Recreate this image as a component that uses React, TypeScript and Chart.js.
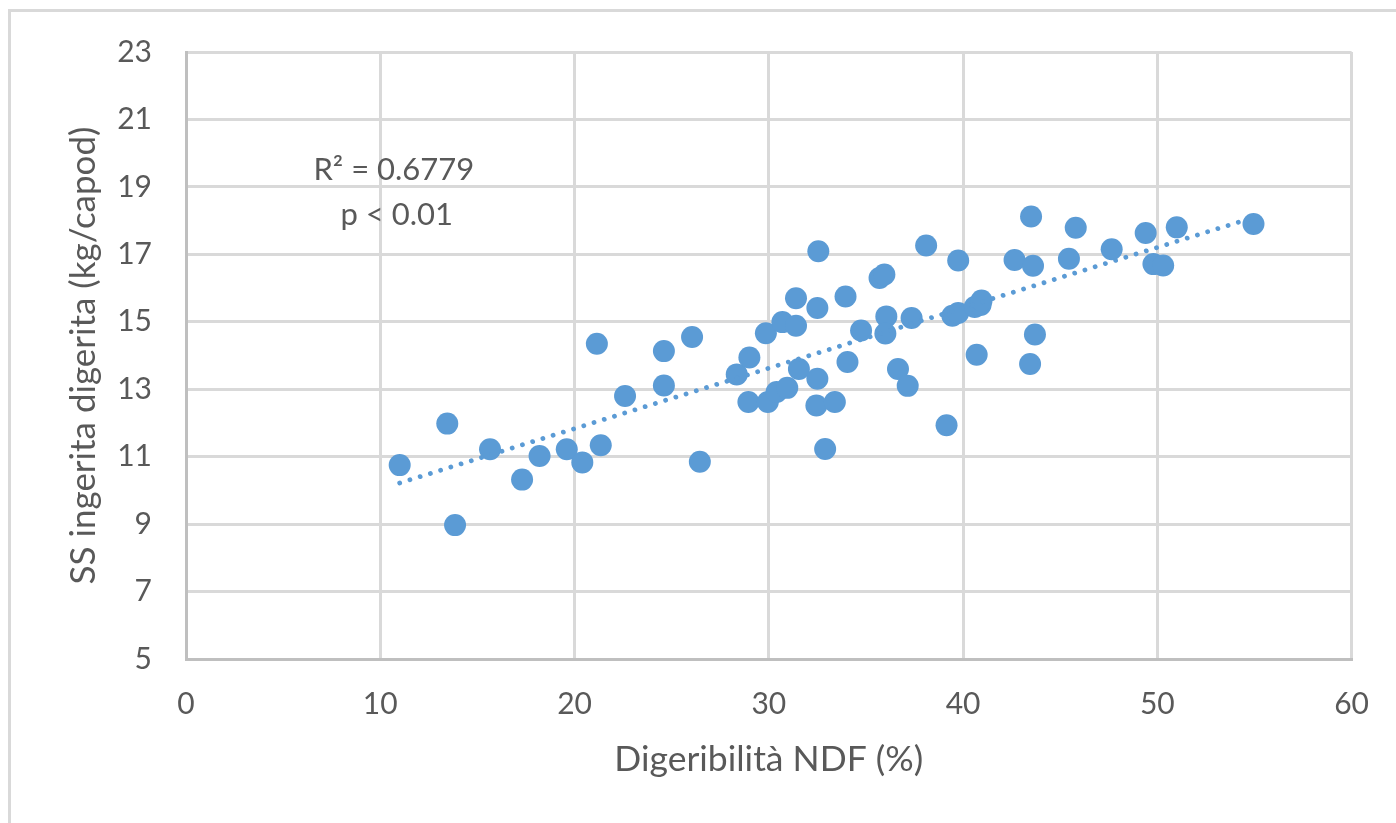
import React, { useEffect, useRef } from "react";
import { Chart, registerables } from "chart.js";

Chart.register(...registerables);

// Scatter data: NDF digestibility (%) vs digested DM intake (kg/head/day)
const ndfDigestibility = [
  11.0, 13.45, 13.85, 15.65, 17.3, 18.2, 19.6, 20.4, 21.15, 21.35,
  22.6, 24.6, 24.6, 26.05, 26.45, 28.35, 29.0, 28.95, 29.85, 29.95,
  30.4, 30.7, 30.95, 31.4, 31.4, 31.55, 32.55, 32.5, 32.5, 32.45,
  32.9, 33.4, 33.95, 34.05, 34.75, 35.7, 35.95, 36.05, 36.0, 36.65,
  37.15, 37.35, 38.1, 39.15, 39.45, 39.75, 39.75, 40.6, 40.7, 40.9,
  40.95, 42.65, 43.45, 43.5, 43.6, 43.7, 45.45, 45.8, 47.65, 49.4,
  49.8, 50.3, 51.0, 54.95,
];
const digestedIntake = [
  10.75, 11.98, 8.97, 11.22, 10.32, 11.02, 11.22, 10.83, 14.35, 11.34,
  12.8, 14.13, 13.11, 14.55, 10.85, 13.44, 13.94, 12.62, 14.66, 12.62,
  12.92, 14.99, 13.04, 15.7, 14.88, 13.6, 17.09, 15.41, 13.31, 12.52,
  11.23, 12.62, 15.75, 13.81, 14.74, 16.3, 16.4, 15.16, 14.65, 13.6,
  13.1, 15.11, 17.26, 11.93, 15.18, 15.26, 16.82, 15.44, 14.02, 15.5,
  15.63, 16.83, 13.75, 18.12, 16.66, 14.62, 16.87, 17.79, 17.15, 17.63,
  16.71, 16.67, 17.8, 17.9,
];

// Linear trendline end points (as drawn in the reference)
const trendX = [11.0, 55.0];
const trendY = [10.22, 18.1];

// Axis ticks
const xTickValues = [0, 10, 20, 30, 40, 50, 60];
const yTickValues = [5, 7, 9, 11, 13, 15, 17, 19, 21, 23];

// Texts
const xTitle = "Digeribilità NDF (%)";
const yTitle = "SS ingerita digerita (kg/capod)";
const annotationLines = ["R² = 0.6779", "p < 0.01"];
const annotationX = [10.7, 10.85];
const annotationY = [19.51, 18.17];

const BLUE = "#5B9BD5";
const TEXT = "#595959";
const GRID = "#D9D9D9";
const AXIS = "#BFBFBF";
const FONT = "Lato";

const annotationPlugin = {
  id: "r2annotation",
  afterDatasetsDraw(chart: any) {
    const { ctx, scales } = chart;
    const xs = scales.x;
    const ys = scales.y;
    ctx.save();
    ctx.font = `31px ${FONT}`;
    ctx.fillStyle = TEXT;
    ctx.textAlign = "center";
    ctx.textBaseline = "middle";
    annotationLines.forEach((t, i) => {
      ctx.fillText(t, xs.getPixelForValue(annotationX[i]), ys.getPixelForValue(annotationY[i]));
    });
    ctx.restore();
  },
};

export default function App() {
  const canvasRef = useRef<HTMLCanvasElement | null>(null);

  useEffect(() => {
    const canvas = canvasRef.current;
    if (!canvas) return;
    const points = ndfDigestibility.map((x, i) => ({ x, y: digestedIntake[i] }));
    const trend = trendX.map((x, i) => ({ x, y: trendY[i] }));

    const chart = new Chart(canvas, {
      type: "scatter",
      data: {
        datasets: [
          {
            label: "SS ingerita digerita",
            data: points,
            backgroundColor: BLUE,
            borderColor: BLUE,
            borderWidth: 0,
            pointRadius: 11,
            pointHoverRadius: 11,
            order: 2,
          },
          {
            label: "Lineare",
            data: trend,
            showLine: true,
            borderColor: BLUE,
            borderWidth: 4.8,
            borderDash: [0.01, 10.7],
            borderCapStyle: "round",
            pointRadius: 0,
            fill: false,
            order: 1,
          } as any,
        ],
      },
      options: {
        responsive: false,
        animation: false,
        events: [],
        layout: { padding: { top: 51, right: 44, left: 0, bottom: 0 } },
        plugins: {
          legend: { display: false },
          tooltip: { enabled: false },
          title: { display: false },
        },
        scales: {
          x: {
            type: "linear",
            min: 0,
            max: 60,
            afterBuildTicks: (scale: any) => {
              scale.ticks = xTickValues.map((v) => ({ value: v }));
            },
            afterFit: (scale: any) => {
              scale.height = 164;
            },
            ticks: {
              color: TEXT,
              font: { family: FONT, size: 30 },
              padding: 27,
              maxRotation: 0,
            },
            grid: { color: GRID, lineWidth: 3, drawTicks: false },
            border: { color: AXIS, width: 3 },
            title: {
              display: true,
              text: xTitle,
              color: TEXT,
              font: { family: FONT, size: 35.5 },
              padding: { top: 0, bottom: 42 },
            },
          },
          y: {
            type: "linear",
            min: 5,
            max: 23,
            afterBuildTicks: (scale: any) => {
              scale.ticks = yTickValues.map((v) => ({ value: v }));
            },
            afterFit: (scale: any) => {
              scale.width = 186;
            },
            ticks: {
              color: TEXT,
              font: { family: FONT, size: 30 },
              padding: 34,
            },
            grid: { color: GRID, lineWidth: 3, drawTicks: false },
            border: { color: AXIS, width: 3 },
            title: {
              display: true,
              text: yTitle,
              color: TEXT,
              font: { family: FONT, size: 35 },
              padding: { top: 63, bottom: 0 },
            },
          },
        },
      } as any,
      plugins: [annotationPlugin],
    });

    return () => chart.destroy();
  }, []);

  return (
    <div
      style={{
        position: "fixed",
        left: 0,
        top: 0,
        width: 1396,
        height: 823,
        overflow: "hidden",
        background: "#ffffff",
      }}
    >
      <div
        style={{
          position: "absolute",
          left: 8,
          top: 9,
          width: 1500,
          height: 900,
          borderLeft: `3px solid ${GRID}`,
          borderTop: `3px solid ${GRID}`,
        }}
      />
      <canvas
        ref={canvasRef}
        width={1396}
        height={823}
        style={{ position: "absolute", left: 0, top: 0, width: 1396, height: 823 }}
      />
    </div>
  );
}
